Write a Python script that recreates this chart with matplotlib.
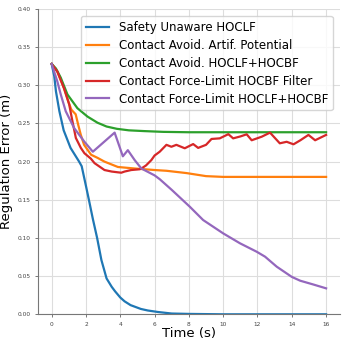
import matplotlib
matplotlib.use('Agg')
import matplotlib.pyplot as plt

# values
t_unaware = [0, 0.15, 0.25, 0.45, 0.7, 1.1, 1.6, 1.75, 2.0, 2.17, 2.4, 2.65, 2.9, 3.2,
             3.5, 3.7, 4.0, 4.25, 4.6, 5.2, 5.6, 6.2, 7.0, 8.0, 10, 12, 14, 16]
v_unaware = [0.328, 0.312, 0.292, 0.266, 0.241, 0.218, 0.200, 0.194, 0.168, 0.150, 0.125,
             0.100, 0.071, 0.047, 0.036, 0.030, 0.022, 0.017, 0.012, 0.007, 0.005, 0.003,
             0.001, 0.0005, 0, 0, 0, 0]

t_artif = [0, 0.33, 0.72, 1.0, 1.15, 1.4, 1.55, 1.7, 1.89, 2.3, 2.67, 3.08, 3.86, 4.84,
           6.0, 6.7, 7.86, 9.0, 10, 12, 14, 16]
v_artif = [0.328, 0.318, 0.296, 0.277, 0.268, 0.262, 0.248, 0.235, 0.222, 0.209, 0.205,
           0.200, 0.193, 0.191, 0.189, 0.188, 0.185, 0.181, 0.180, 0.180, 0.180, 0.180]

t_avoid = [0, 0.25, 0.53, 0.92, 1.5, 2.09, 2.67, 3.2, 3.8, 4.5, 5.4, 6.5, 8, 10, 12, 14, 16]
v_avoid = [0.328, 0.322, 0.310, 0.288, 0.270, 0.259, 0.251, 0.246, 0.243, 0.241, 0.240,
           0.239, 0.2385, 0.2385, 0.2385, 0.2385, 0.2385]

t_filter = [0, 0.33, 0.72, 1.02, 1.21, 1.41, 1.7, 1.91, 2.28, 2.5, 3.08, 3.5, 3.86, 4.06,
            4.25, 4.64, 5.13, 5.23, 5.5, 5.81, 6.0, 6.3, 6.69, 6.98, 7.27, 7.76, 8.25,
            8.54, 9.0, 9.32, 9.8, 10.3, 10.58, 11.0, 11.37, 11.66, 12.25, 12.73, 13.3,
            13.7, 14.1, 14.5, 14.97, 15.36, 16]
v_filter = [0.328, 0.318, 0.296, 0.275, 0.253, 0.231, 0.218, 0.211, 0.204, 0.198, 0.189,
            0.187, 0.186, 0.1855, 0.187, 0.189, 0.190, 0.191, 0.195, 0.202, 0.208, 0.213,
            0.222, 0.2195, 0.222, 0.2175, 0.223, 0.218, 0.222, 0.2297, 0.2305, 0.236,
            0.2305, 0.233, 0.2358, 0.228, 0.2327, 0.238, 0.224, 0.226, 0.2227, 0.228,
            0.235, 0.228, 0.235]

t_limit = [0, 0.33, 0.53, 0.82, 1.31, 1.91, 2.4, 3.67, 4.15, 4.44, 4.84, 5.23, 6.0, 6.3,
           7.0, 8.05, 8.83, 10.0, 10.98, 11.95, 12.44, 13.12, 14.0, 14.49, 15.26, 16]
v_limit = [0.328, 0.305, 0.288, 0.266, 0.244, 0.226, 0.213, 0.238, 0.207, 0.215, 0.202,
           0.191, 0.182, 0.177, 0.163, 0.141, 0.1235, 0.106, 0.093, 0.082, 0.0755, 0.0624,
           0.049, 0.044, 0.039, 0.034]

labels = ['Safety Unaware HOCLF',
          'Contact Avoid. Artif. Potential',
          'Contact Avoid. HOCLF+HOCBF',
          'Contact Force-Limit HOCBF Filter',
          'Contact Force-Limit HOCLF+HOCBF']

fig = plt.figure(figsize=(3.45, 3.45), dpi=100)
ax = fig.add_axes([0.11, 0.089, 0.875, 0.885])

series = [(t_unaware, v_unaware), (t_artif, v_artif), (t_avoid, v_avoid),
          (t_filter, v_filter), (t_limit, v_limit)]
for (t, v), lab in zip(series, labels):
    ax.plot(t, v, lw=1.6, label=lab)

ax.set_xlim(-0.8, 16.8)
ax.set_ylim(0, 0.40)
ax.set_xticks(range(0, 17, 2))
ax.set_yticks([0, 0.05, 0.10, 0.15, 0.20, 0.25, 0.30, 0.35, 0.40])
ax.set_yticklabels(['%.2f' % y for y in ax.get_yticks()])
ax.grid(True, color='#dddddd', lw=0.8)
ax.set_axisbelow(True)
ax.tick_params(labelsize=4.2, length=2, width=0.5, colors='#444444')
for s in ['top', 'right']:
    ax.spines[s].set_visible(False)
for s in ['left', 'bottom']:
    ax.spines[s].set_color('#777777')
    ax.spines[s].set_linewidth(0.8)

ax.set_xlabel('Time (s)', fontsize=9.5, labelpad=0)
ax.set_ylabel('Regulation Error (m)', fontsize=9.5, labelpad=3)
ax.legend(loc='upper right', fontsize=8.5, labelspacing=0.42, borderaxespad=0.6)

plt.savefig('out.png', dpi=100)
